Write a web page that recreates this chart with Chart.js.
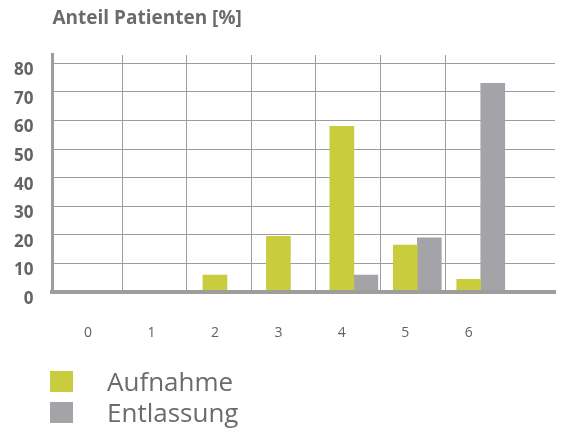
<!DOCTYPE html>
<html lang="de">
<head>
<meta charset="utf-8">
<title>Anteil Patienten</title>
<script src="https://cdn.jsdelivr.net/npm/chart.js@4.4.0/dist/chart.umd.min.js"></script>
<style>
  html, body { margin: 0; padding: 0; background: #fff; }
  #wrap { position: relative; width: 566px; height: 432px; font-family: 'Open Sans', sans-serif; }
  #legend { position: absolute; left: 50px; top: 366px; margin: 0; padding: 0; list-style: none; color: #6b6b6b; font-size: 26px; line-height: 31px; }
  #legend li { display: flex; align-items: center; height: 31px; }
  #legend .box { width: 23px; height: 21px; margin-right: 34px; }
</style>
</head>
<body>
<div id="wrap">
  <canvas id="my-chart" width="566" height="432"></canvas>
  <ul id="legend"></ul>
</div>
<script>
'use strict';

// ***************** DATA ***************** //

let categories = [0, 1, 2, 3, 4, 5, 6];
let aufnahme = [0, 0, 6, 19.5, 58, 16.5, 4.5];
let entlassung = [0, 0, 0, 0, 6, 19, 73];
let yTicks = [0, 10, 20, 30, 40, 50, 60, 70, 80];

// ***************** STYLE ***************** //

let yellow = '#c9cc3c';
let grey = '#a3a3a8';
let lineGrey = '#9d9d9d';
let textGrey = '#6b6b6b';
let clear = 'rgba(0,0,0,0)';
// vertical grid lines of the original sit between the categories, a bit left of the bar pairs
let gridCols = [0.35, 1.37, 2.38, 3.4, 4.42, 5.44];

Chart.defaults.font.family = "'Open Sans', sans-serif";

let ctx = document.getElementById('my-chart').getContext('2d');

// tick gaps are made with invisible tick marks (tickLength) instead of ticks.padding,
// since v4 also adds ticks.padding to the chart area margins
let myChart = new Chart(ctx, {
  type: 'bar',
  data: {
    labels: categories,
    datasets: [
      { label: 'Aufnahme', data: aufnahme, backgroundColor: yellow, barThickness: 24 },
      { label: 'Entlassung', data: entlassung, backgroundColor: grey, barThickness: 24 }
    ]
  },
  options: {
    responsive: false,
    animation: false,
    layout: { padding: { left: 14, right: 11, top: 0, bottom: 91 } },
    plugins: {
      legend: { display: false },
      tooltip: { enabled: false },
      title: {
        display: true,
        text: 'Anteil Patienten [%]',
        align: 'start',
        fullSize: false,
        color: textGrey,
        font: { size: 19, weight: 'bold' },
        padding: { top: 7, bottom: 25 }
      }
    },
    scales: {
      x: {
        type: 'linear',
        offset: false,
        min: -0.75,
        max: 7.17,
        afterBuildTicks: (scale) => { scale.ticks = categories.map(v => ({ value: v })); },
        grid: { display: true, offset: false, color: clear, tickColor: clear, drawTicks: true, tickLength: 32 },
        border: { display: true, color: lineGrey, width: 4, z: 1 },
        ticks: { padding: 0, labelOffset: -12, color: '#626262', font: { size: 14 } }
      },
      xGrid: {
        type: 'linear',
        position: 'top',
        offset: false,
        min: -0.75,
        max: 7.17,
        afterBuildTicks: (scale) => { scale.ticks = gridCols.map(v => ({ value: v })); },
        grid: { offset: false, color: lineGrey, lineWidth: 1, drawTicks: false },
        border: { display: false },
        ticks: { display: false, padding: 0 }
      },
      y: {
        min: 0,
        max: 83,
        afterBuildTicks: (scale) => { scale.ticks = yTicks.map(v => ({ value: v })); },
        grid: { color: lineGrey, lineWidth: 1, drawTicks: true, tickLength: 19, tickColor: clear },
        border: { display: true, color: lineGrey, width: 3, z: 1 },
        ticks: { padding: 0, labelOffset: 7, color: '#646464', font: { size: 17, weight: 'bold' } }
      }
    }
  }
});

// ***************** HTML LEGEND ***************** //

let legendList = document.getElementById('legend');
myChart.data.datasets.forEach(function (ds) {
  let li = document.createElement('li');
  let box = document.createElement('span');
  box.className = 'box';
  box.style.background = ds.backgroundColor;
  li.appendChild(box);
  li.appendChild(document.createTextNode(ds.label));
  legendList.appendChild(li);
});
</script>
</body>
</html>
